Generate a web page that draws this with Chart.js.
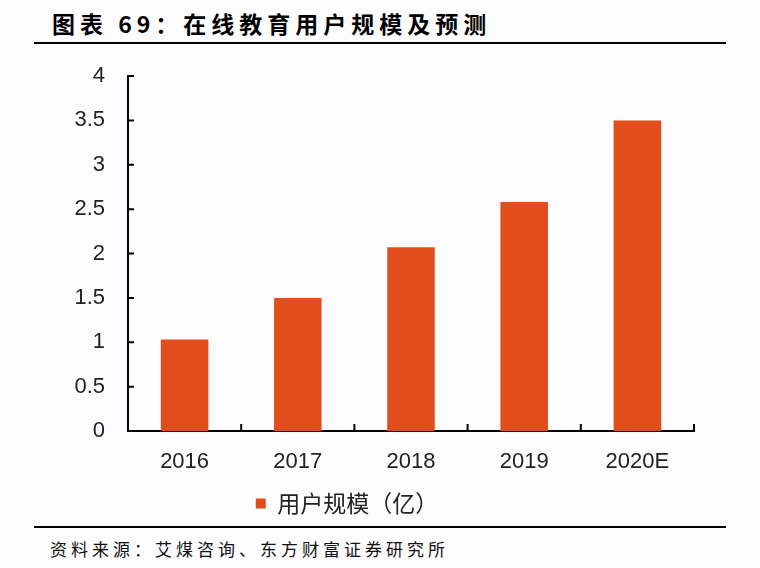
<!DOCTYPE html>
<html>
<head>
<meta charset="utf-8">
<script src="https://cdn.jsdelivr.net/npm/chart.js@4/dist/chart.umd.min.js"></script>
<style>
  html, body { margin: 0; padding: 0; background: #fcfcfe; }
  #wrap { position: relative; width: 760px; height: 568px; overflow: hidden; }
  #title {
    position: absolute; left: 52px; top: 6px;
    font: bold 23px "Noto Sans CJK SC", sans-serif; letter-spacing: 5px; color: #000;
  }
  .rule { position: absolute; left: 34px; width: 692px; height: 2px; background: #000; }
  #source {
    position: absolute; left: 50px; top: 536px;
    font: 17px "Noto Sans CJK SC", sans-serif; letter-spacing: 4px; color: #111;
  }
  #box { position: absolute; left: 0; top: 0; width: 760px; height: 525px; }
</style>
</head>
<body>
<div id="wrap">
  <div id="title">图表 69：在线教育用户规模及预测</div>
  <div class="rule" style="top:42px"></div>
  <div id="box"><canvas id="chart"></canvas></div>
  <div class="rule" style="top:526px"></div>
  <div id="source">资料来源：艾煤咨询、东方财富证券研究所</div>
</div>
<script>
const years = ['2016', '2017', '2018', '2019', '2020E'];
const users = [1.03, 1.5, 2.07, 2.58, 3.5];
const seriesName = '用户规模（亿）';
const yTicks = [0, 0.5, 1, 1.5, 2, 2.5, 3, 3.5, 4];

// small tick marks pointing into the plot, like the source chart
const innerTicks = {
  id: 'innerTicks',
  afterDatasetsDraw(chart) {
    const { ctx, chartArea, scales } = chart;
    ctx.save();
    ctx.strokeStyle = '#000';
    ctx.lineWidth = 2;
    ctx.beginPath();
    yTicks.forEach(v => {
      const y = scales.y.getPixelForValue(v);
      ctx.moveTo(chartArea.left, y);
      ctx.lineTo(chartArea.left + 6, y);
    });
    const step = (chartArea.right - chartArea.left) / years.length;
    for (let i = 0; i <= years.length; i++) {
      const x = chartArea.left + i * step;
      ctx.moveTo(x, chartArea.bottom);
      ctx.lineTo(x, chartArea.bottom - 7);
    }
    ctx.stroke();
    ctx.restore();
  }
};

new Chart(document.getElementById('chart'), {
  type: 'bar',
  data: {
    labels: years,
    datasets: [{
      label: seriesName,
      data: users,
      backgroundColor: '#e24e1b',
      barPercentage: 0.42,
      categoryPercentage: 1
    }]
  },
  options: {
    responsive: true,
    maintainAspectRatio: false,
    animation: false,
    layout: { padding: { top: 76, right: 66, left: 0, bottom: 0 } },
    plugins: {
      tooltip: { enabled: false },
      legend: {
        position: 'bottom',
        labels: {
          boxWidth: 10, boxHeight: 10, padding: 8,
          color: '#222',
          font: { family: '"Noto Sans CJK SC", sans-serif', size: 23 }
        }
      }
    },
    scales: {
      x: {
        grid: { display: false, drawTicks: false },
        border: { display: true, color: '#000', width: 2 },
        ticks: {
          color: '#222', padding: 18,
          font: { family: '"Liberation Sans", Arial, sans-serif', size: 22 }
        },
        afterFit(scale) { scale.height = 53; }
      },
      y: {
        min: 0, max: 4,
        grid: { display: false, drawTicks: false },
        border: { display: true, color: '#000', width: 2 },
        ticks: {
          stepSize: 0.5, color: '#222', padding: 23,
          font: { family: '"Liberation Sans", Arial, sans-serif', size: 22 },
          callback: v => String(v)
        },
        afterFit(scale) { scale.width = 128; }
      }
    }
  },
  plugins: [innerTicks]
});
</script>
</body>
</html>
